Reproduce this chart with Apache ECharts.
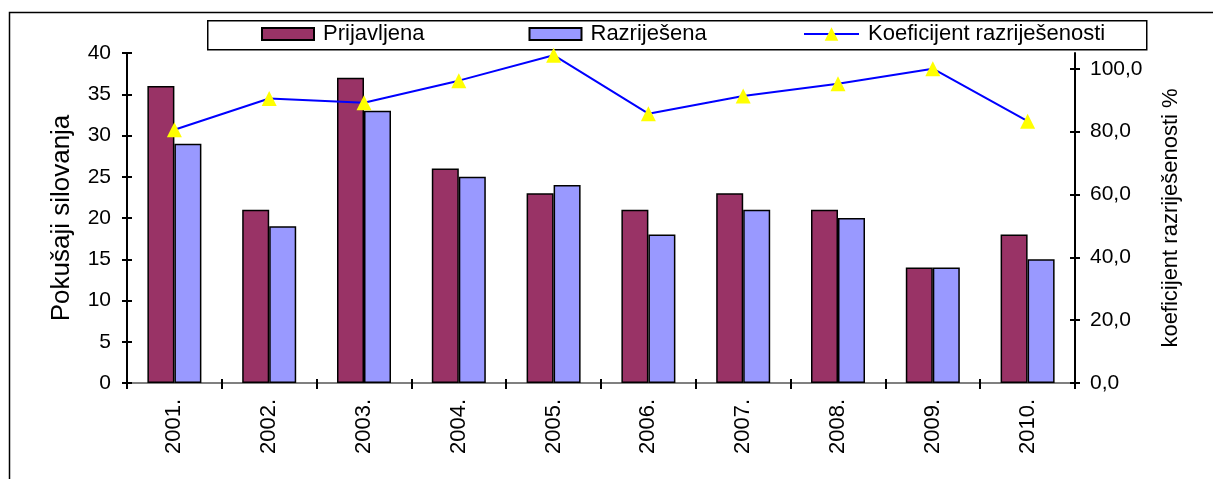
<!DOCTYPE html>
<html>
<head>
<meta charset="utf-8">
<script src="https://cdn.jsdelivr.net/npm/echarts@6/dist/echarts.min.js"></script>
<style>html,body{margin:0;padding:0;background:#fff;}#c{width:1213px;height:479px;}</style>
</head>
<body>
<div id="c"></div>
<script>
const categories = ['2001.', '2002.', '2003.', '2004.', '2005.', '2006.', '2007.', '2008.', '2009.', '2010.'];
const prijavljena = [36, 21, 37, 26, 23, 21, 23, 21, 14, 18];
const razrijesena = [29, 19, 33, 25, 24, 18, 21, 20, 14, 15];
const koeficijent = [80.6, 90.5, 89.2, 96.2, 104.3, 85.7, 91.3, 95.2, 100.0, 83.3];
const leftTicks = [0, 5, 10, 15, 20, 25, 30, 35, 40];
const rightTicks = [0, 20, 40, 60, 80, 100];

const FONT = 'Liberation Sans, Arial, sans-serif';
const chart = echarts.init(document.getElementById('c'), null, {renderer: 'canvas'});
const lbl = {color: '#000', fontFamily: FONT, fontSize: 21};
const legText = {color: '#000', fontFamily: FONT, fontSize: 22, padding: [0, 0, 0, 4]};
chart.setOption({
  animation: false,
  backgroundColor: '#fff',
  graphic: [{
    type: 'rect', left: 7, top: 10, z: -10,
    shape: {width: 1230, height: 500},
    style: {fill: 'none', stroke: '#000', lineWidth: 1.5}
  }, {
    type: 'rect', left: 207, top: 20, z: 1,
    shape: {width: 939, height: 29},
    style: {fill: '#fff', stroke: '#000', lineWidth: 1.5}
  }],
  legend: [{
    left: 256, top: 21, padding: [2, 5, 2, 5], z: 10,
    itemGap: 104, itemWidth: 52, itemHeight: 12,
    icon: 'rect',
    textStyle: legText,
    data: ['Prijavljena', 'Razriješena']
  }, {
    left: 798, top: 21, padding: [2, 5, 2, 5], z: 10,
    itemWidth: 55, itemHeight: 17,
    textStyle: legText,
    data: ['Koeficijent razriješenosti']
  }],
  grid: {left: 127, right: 138, top: 53, bottom: 96, containLabel: false},
  xAxis: [{
    type: 'category', data: categories, position: 'bottom',
    axisLine: {lineStyle: {color: '#000', width: 2}},
    axisTick: {show: true, length: 6, alignWithLabel: false, lineStyle: {color: '#000', width: 2}},
    axisLabel: Object.assign({}, lbl, {rotate: 90, margin: 16, fontSize: 22}),
    splitLine: {show: false}
  }, {
    type: 'category', data: categories, position: 'bottom', gridIndex: 0,
    axisLine: {show: false},
    axisTick: {show: true, inside: true, length: 4, lineStyle: {color: '#000', width: 2}},
    axisLabel: {show: false}
  }, {
    type: 'category', data: categories, position: 'top',
    axisLine: {lineStyle: {color: '#808080', width: 2}},
    axisTick: {show: false}, axisLabel: {show: false}
  }],
  yAxis: [{
    type: 'value', min: 0, max: 40, interval: 5, position: 'left',
    name: 'Pokušaji silovanja', nameLocation: 'middle', nameGap: 52, nameRotate: 90,
    nameTextStyle: {color: '#000', fontFamily: FONT, fontSize: 26},
    axisLine: {show: true, lineStyle: {color: '#000', width: 2}},
    axisTick: {show: true, length: 5, lineStyle: {color: '#000', width: 2}},
    axisLabel: Object.assign({margin: 16}, lbl),
    splitLine: {show: false}
  }, {
    type: 'value', min: 0, max: 105, interval: 20, position: 'right',
    name: 'koeficijent razriješenosti %', nameLocation: 'middle', nameGap: 85, nameRotate: 90,
    nameTextStyle: {color: '#000', fontFamily: FONT, fontSize: 22},
    axisLine: {show: true, lineStyle: {color: '#000', width: 2}},
    axisTick: {show: true, length: 5, customValues: rightTicks, lineStyle: {color: '#000', width: 2}},
    axisLabel: Object.assign({margin: 15, customValues: rightTicks,
      formatter: v => v.toFixed(1).replace('.', ',')}, lbl),
    splitLine: {show: false}
  }, {
    type: 'value', min: 0, max: 40, interval: 5, position: 'left',
    axisLine: {show: false},
    axisTick: {show: true, inside: true, length: 5, lineStyle: {color: '#000', width: 2}},
    axisLabel: {show: false}, splitLine: {show: false}
  }, {
    type: 'value', min: 0, max: 105, interval: 20, position: 'right',
    axisLine: {show: false},
    axisTick: {show: true, inside: true, length: 5, customValues: rightTicks, lineStyle: {color: '#000', width: 2}},
    axisLabel: {show: false}, splitLine: {show: false}
  }],
  series: [{
    name: 'Prijavljena', type: 'bar', data: prijavljena, xAxisIndex: 0, yAxisIndex: 0,
    barWidth: 27, barGap: '0%',
    itemStyle: {color: '#993366', borderColor: '#000', borderWidth: 1.5}
  }, {
    name: 'Razriješena', type: 'bar', data: razrijesena, xAxisIndex: 0, yAxisIndex: 0,
    barWidth: 27, barGap: '0%',
    itemStyle: {color: '#9999FF', borderColor: '#000', borderWidth: 1.5}
  }, {
    name: 'Koeficijent razriješenosti', type: 'line', data: koeficijent, xAxisIndex: 0, yAxisIndex: 1,
    symbol: 'triangle', symbolSize: 15, showAllSymbol: true,
    lineStyle: {color: '#0000FF', width: 2},
    itemStyle: {color: '#FFFF00', borderWidth: 0},
    z: 5
  }]
});
</script>
</body>
</html>
